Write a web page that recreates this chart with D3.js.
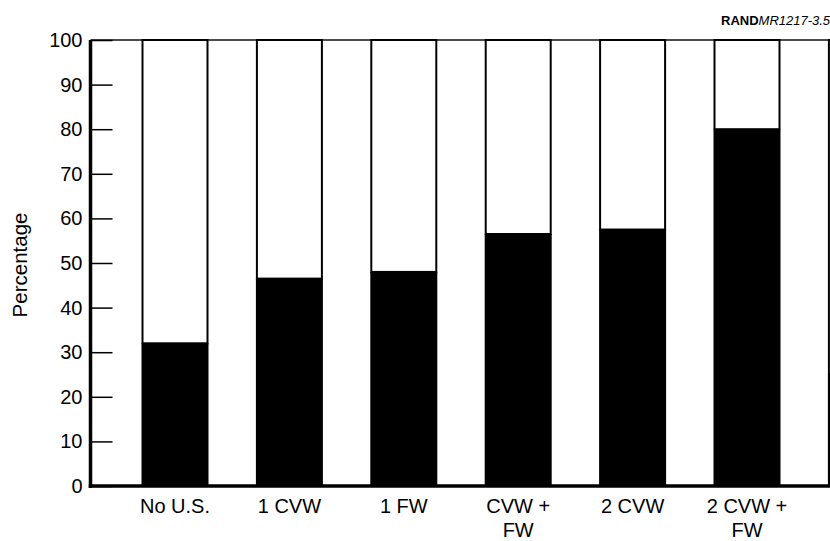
<!DOCTYPE html>
<html>
<head>
<meta charset="utf-8">
<script src="https://cdn.jsdelivr.net/npm/d3@7"></script>
<style>
  html, body { margin: 0; padding: 0; background: #fff; }
  svg { display: block; }
  text { font-family: "Liberation Sans", Arial, Helvetica, sans-serif; fill: #000; }
</style>
</head>
<body>
<svg id="chart" width="830" height="541"></svg>
<script>
// ---- data ----
const categories = ["No U.S.", "1 CVW", "1 FW", "CVW +|FW", "2 CVW", "2 CVW +|FW", ""];
const values = [32, 46.5, 48, 56.5, 57.5, 80, 25];
const yTicks = [0, 10, 20, 30, 40, 50, 60, 70, 80, 90, 100];
const yLabel = "Percentage";
const sourceBold = "RAND";
const sourceItalic = "MR1217-3.5";

// ---- layout ----
const W = 830, H = 541;
const axisX = 90.5, y0 = 486, y100 = 40;
const step = 114.4, barW = 65, firstBar = 142.5;
const pIn = 1 - barW / step;
const pOut = (firstBar - axisX) / step;
const n = categories.length;

const svg = d3.select("#chart");

const ids = d3.range(n);
const x = d3.scaleBand()
  .domain(ids)
  .range([axisX, axisX + step * (n - pIn + 2 * pOut)])
  .paddingInner(pIn)
  .paddingOuter(pOut);

const y = d3.scaleLinear().domain([0, 100]).range([y0, y100]);

// top frame line
svg.append("line")
  .attr("x1", axisX).attr("x2", W)
  .attr("y1", y(100)).attr("y2", y(100))
  .attr("stroke", "#111").attr("stroke-width", 1.6);

// bars: white upper part with outline, black lower part
const g = svg.append("g");
g.selectAll("rect.top").data(ids).join("rect")
  .attr("class", "top")
  .attr("x", i => x(i))
  .attr("width", x.bandwidth())
  .attr("y", y(100))
  .attr("height", i => y(values[i]) - y(100))
  .attr("fill", "#fff")
  .attr("stroke", "#000")
  .attr("stroke-width", 2);

g.selectAll("rect.bot").data(ids).join("rect")
  .attr("class", "bot")
  .attr("x", i => x(i) - 1)
  .attr("width", x.bandwidth() + 2)
  .attr("y", i => y(values[i]))
  .attr("height", i => y(0) - y(values[i]))
  .attr("fill", "#000");

// y axis
const yAxis = d3.axisLeft(y)
  .tickValues(yTicks)
  .tickFormat(d3.format("d"))
  .tickSizeInner(-22)
  .tickSizeOuter(0)
  .tickPadding(8);

const ya = svg.append("g")
  .attr("transform", `translate(${axisX},0)`)
  .call(yAxis);
ya.select(".domain").remove();
ya.selectAll(".tick line").attr("stroke", "#000").attr("stroke-width", 1.5);
ya.selectAll(".tick text")
  .attr("x", -8)
  .style("font-size", "20px")
  .style("font-family", "Liberation Sans, Arial, sans-serif");

// axis lines (thick)
svg.append("line")
  .attr("x1", axisX).attr("x2", axisX)
  .attr("y1", y(100)).attr("y2", y(0) + 2)
  .attr("stroke", "#000").attr("stroke-width", 3.5);
svg.append("line")
  .attr("x1", axisX - 1.75).attr("x2", W)
  .attr("y1", y(0)).attr("y2", y(0))
  .attr("stroke", "#000").attr("stroke-width", 3.5);

// x category labels
const xl = svg.append("g");
ids.forEach(i => {
  const lines = categories[i].split("|");
  const t = xl.append("text")
    .attr("x", x(i) + x.bandwidth() / 2)
    .attr("y", 513)
    .attr("text-anchor", "middle")
    .style("font-size", "20px");
  lines.forEach((ln, k) => {
    t.append("tspan")
      .attr("x", x(i) + x.bandwidth() / 2)
      .attr("dy", k === 0 ? 0 : 24)
      .text(ln);
  });
});

// y label
svg.append("text")
  .attr("transform", `translate(27,265) rotate(-90)`)
  .attr("text-anchor", "middle")
  .style("font-size", "20.5px")
  .text(yLabel);

// source tag
const src = svg.append("text")
  .attr("x", 721)
  .attr("y", 25)
  .style("font-size", "13px");
src.append("tspan").style("font-weight", "bold").text(sourceBold);
src.append("tspan").style("font-style", "italic").text(sourceItalic);
</script>
</body>
</html>
